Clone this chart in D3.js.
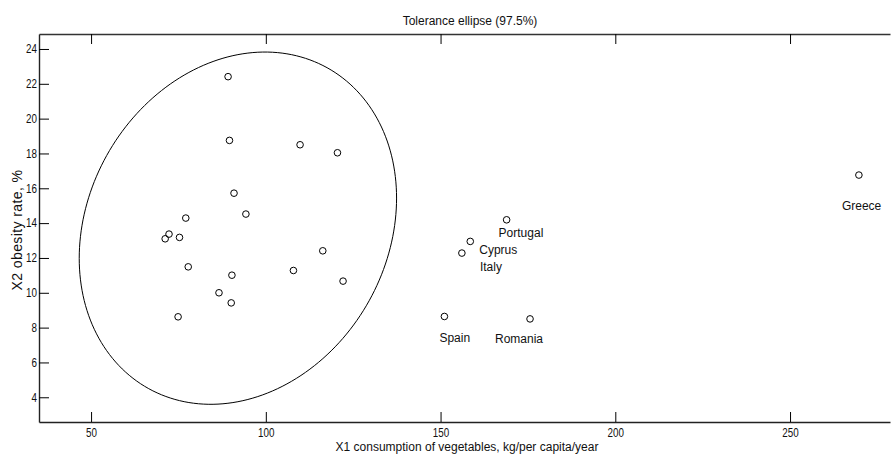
<!doctype html>
<html>
<head>
    <style>
        body { margin: 0; background: #fff; }
        text { font-family: "Liberation Sans", Arial, sans-serif; fill: #111; }
        .tick text { font-size: 12px; }
        .dot { fill: none; stroke: #000; stroke-width: 1; }
        .ellipse { fill: none; stroke: #000; stroke-width: 1; }
    </style>
    <script src="https://d3js.org/d3.v7.min.js"></script>
</head>
<body>
<svg width="891" height="456"></svg>
<script>

    // countries inside the tolerance ellipse (unlabelled)
    var clusterX = [89.2, 89.6, 109.8, 120.5, 90.9, 94.3, 77.1, 72.3, 71.2, 75.3, 77.8, 107.9, 90.3, 86.6, 90.1, 74.9, 116.3, 122.1];
    var clusterY = [22.41, 18.75, 18.5, 18.04, 15.72, 14.52, 14.29, 13.37, 13.1, 13.18, 11.49, 11.28, 11.01, 10.0, 9.42, 8.62, 12.41, 10.67];

    // outlying countries
    var outlierNames = ["Portugal", "Cyprus", "Italy", "Spain", "Romania", "Greece"];
    var outlierX = [168.9, 158.5, 156.1, 151.1, 175.6, 269.7];
    var outlierY = [14.19, 12.95, 12.28, 8.64, 8.5, 16.76];

    var xTicks = [50, 100, 150, 200, 250];
    var yTicks = [4, 6, 8, 10, 12, 14, 16, 18, 20, 22, 24];

    // label placement relative to the point, px
    var labelDx = [-8, 9, 18, -5, -35, -17];
    var labelDy = [17, 13, 18, 26, 24, 35];

    var svg = d3.select("svg");

    var plotLeft = 39, plotRight = 890, plotTop = 34, plotBottom = 422;

    var xScale = d3.scaleLinear().domain([35.1, 278.6]).range([plotLeft, plotRight]),
        yScale = d3.scaleLinear().domain([2.58, 24.86]).range([plotBottom, plotTop]);

    // bottom axis, ticks pointing inward
    svg.append("g")
       .attr("transform", "translate(0," + plotBottom + ")")
       .call(d3.axisBottom(xScale).tickValues(xTicks).tickSize(-10).tickPadding(6).tickSizeOuter(0))
       .call(function(g) { g.select(".domain").attr("stroke", "#222").attr("stroke-width", 1.4); })
       .selectAll(".tick text")
       .attr("transform", "scale(0.82,1)");

    // top axis, ticks only
    svg.append("g")
       .attr("transform", "translate(0," + plotTop + ")")
       .call(d3.axisTop(xScale).tickValues(xTicks).tickSize(-10).tickSizeOuter(0).tickFormat(""))
       .call(function(g) { g.select(".domain").attr("stroke", "#333").attr("stroke-width", 1.4); });

    // left axis, narrow labels
    svg.append("g")
       .attr("transform", "translate(" + plotLeft + ",0)")
       .call(d3.axisLeft(yScale).tickValues(yTicks).tickSize(-10).tickPadding(2).tickSizeOuter(0))
       .call(function(g) { g.select(".domain").attr("stroke", "#222").attr("stroke-width", 1.4); })
       .selectAll(".tick text")
       .attr("x", -2 / 0.82)
       .attr("transform", "scale(0.82,1)");

    svg.selectAll(".tick line").attr("stroke", "#000");

    // 97.5% tolerance ellipse from the cluster's mean and covariance
    var n = clusterX.length,
        mx = d3.mean(clusterX),
        my = d3.mean(clusterY);
    var sxx = 0, syy = 0, sxy = 0;
    for (var i = 0; i < n; i++) {
        sxx += (clusterX[i] - mx) * (clusterX[i] - mx);
        syy += (clusterY[i] - my) * (clusterY[i] - my);
        sxy += (clusterX[i] - mx) * (clusterY[i] - my);
    }
    sxx /= n - 1; syy /= n - 1; sxy /= n - 1;
    var c = Math.sqrt(7.3778); // chi-square 2 df, 0.975
    var l11 = Math.sqrt(sxx),
        l21 = sxy / l11,
        l22 = Math.sqrt(syy - l21 * l21);
    var ellipsePts = d3.range(0, 201).map(function(k) {
        var t = k / 200 * 2 * Math.PI;
        return [mx + c * l11 * Math.cos(t), my + c * (l21 * Math.cos(t) + l22 * Math.sin(t))];
    });

    svg.append("path")
       .datum(ellipsePts)
       .attr("class", "ellipse")
       .attr("d", d3.line()
           .x(function(d) { return xScale(d[0]); })
           .y(function(d) { return yScale(d[1]); }));

    // points
    var allX = clusterX.concat(outlierX),
        allY = clusterY.concat(outlierY);

    svg.selectAll(".dot")
       .data(d3.range(allX.length))
       .enter().append("circle")
       .attr("class", "dot")
       .attr("cx", function(i) { return xScale(allX[i]); })
       .attr("cy", function(i) { return yScale(allY[i]); })
       .attr("r", 3.3);

    svg.selectAll(".lbl")
       .data(outlierNames)
       .enter().append("text")
       .attr("class", "lbl")
       .attr("x", function(d, i) { return xScale(outlierX[i]) + labelDx[i]; })
       .attr("y", function(d, i) { return yScale(outlierY[i]) + labelDy[i]; })
       .style("font-size", "12px")
       .text(function(d) { return d; });

    // title and axis labels
    svg.append("text")
       .attr("x", 470)
       .attr("y", 25)
       .attr("text-anchor", "middle")
       .style("font-size", "12px")
       .text("Tolerance ellipse (97.5%)");

    svg.append("text")
       .attr("x", 467)
       .attr("y", 451)
       .attr("text-anchor", "middle")
       .style("font-size", "12px")
       .text("X1 consumption of vegetables, kg/per capita/year");

    svg.append("text")
       .attr("transform", "translate(22,230) rotate(-90)")
       .attr("text-anchor", "middle")
       .style("font-size", "14px")
       .style("letter-spacing", "0.4px")
       .text("X2 obesity rate, %");
</script>
</body>
</html>
